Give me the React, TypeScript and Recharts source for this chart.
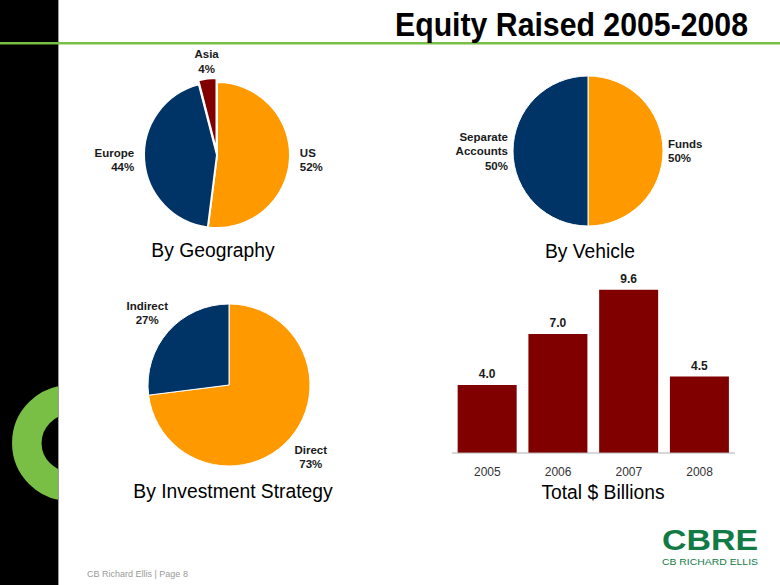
import React from "react";
import { PieChart, Pie, Cell, BarChart, Bar, XAxis, YAxis, LabelList } from "recharts";

const geoNames = ["US", "Europe", "Asia"];
const geoShares = [52, 44, 4];

const vehicleNames = ["Funds", "Separate Accounts"];
const vehicleShares = [50, 50];

const strategyNames = ["Direct", "Indirect"];
const strategyShares = [73, 27];

const years = ["2005", "2006", "2007", "2008"];
const equityRaised = [4.0, 7.0, 9.6, 4.5];

const ORANGE = "#FF9900";
const NAVY = "#003366";
const MAROON = "#800000";
const GREEN = "#79bf45";
const FONT = "'Liberation Sans', Arial, sans-serif";

const geoData = geoNames.map((name, i) => ({ name, value: geoShares[i] }));
const vehicleData = vehicleNames.map((name, i) => ({ name, value: vehicleShares[i] }));
const strategyData = strategyNames.map((name, i) => ({ name, value: strategyShares[i] }));
const barData = years.map((year, i) => ({ year, value: equityRaised[i] }));

const RAD = Math.PI / 180;
const NO_MARGIN = { top: 0, right: 0, bottom: 0, left: 0 };

// label outside the slice, split over lines, with the percentage last
const sliceLabel = (gap: number) => (props: any) => {
  const { cx, cy, midAngle, outerRadius, name, value } = props;
  const c = Math.cos(-midAngle * RAD);
  const s = Math.sin(-midAngle * RAD);
  const r = outerRadius + gap;
  const x = cx + r * c;
  const y = cy + r * s;
  const anchor = Math.abs(c) < 0.85 ? "middle" : c > 0 ? "start" : "end";
  const lines = [...String(name).split(" "), `${value}%`];
  const lh = 14.5;
  let y0;
  if (s < -0.7) y0 = y - 4 - (lines.length - 1) * lh;
  else if (s > 0.7) y0 = y + 8;
  else y0 = y - ((lines.length - 1) * lh) / 2;
  return (
    <text
      x={x}
      y={y0}
      textAnchor={anchor}
      fontFamily={FONT}
      fontSize={11.5}
      fontWeight="bold"
      fill="#1a1a1a"
    >
      {lines.map((l, i) => (
        <tspan key={i} x={x} y={y0 + i * lh} dy="0.35em">
          {l}
        </tspan>
      ))}
    </text>
  );
};

const pieBox = (left: number, top: number): React.CSSProperties => ({
  position: "absolute",
  left,
  top,
  width: 300,
  height: 250,
});

export default function App() {
  return (
    <div
      style={{
        position: "fixed",
        left: 0,
        top: 0,
        width: 780,
        height: 585,
        background: "#fff",
        overflow: "hidden",
        fontFamily: FONT,
      }}
    >
      <svg width={780} height={585} style={{ position: "absolute", left: 0, top: 0 }}>
        <defs>
          <clipPath id="barClip">
            <rect x={0} y={0} width={58} height={585} />
          </clipPath>
        </defs>
        <rect x={0} y={0} width={58} height={585} fill="#000" />
        <rect x={58} y={0} width={1} height={585} fill="#9a9a9a" />
        <circle
          cx={70}
          cy={443}
          r={43.2}
          fill="none"
          stroke={GREEN}
          strokeWidth={29.5}
          clipPath="url(#barClip)"
        />
        <rect x={0} y={42} width={780} height={2.5} fill={GREEN} />
        <text
          x={748}
          y={36}
          textAnchor="end"
          fontFamily={FONT}
          fontWeight="bold"
          fontSize={33}
          textLength={353}
          lengthAdjust="spacingAndGlyphs"
          fill="#000"
        >
          Equity Raised 2005-2008
        </text>

        <g fontFamily={FONT} fontSize={19.3} fill="#000" textAnchor="middle">
          <text x={213} y={257}>By Geography</text>
          <text x={590} y={258}>By Vehicle</text>
          <text x={233} y={498}>By Investment Strategy</text>
          <text x={603} y={499}>Total $ Billions</text>
        </g>

        <text x={87} y={577} fontFamily={FONT} fontSize={9} fill="#9a9a9a">
          CB Richard Ellis  |  Page 8
        </text>

        <text
          x={662}
          y={550}
          fontFamily={FONT}
          fontWeight="bold"
          fontSize={29}
          textLength={96}
          lengthAdjust="spacingAndGlyphs"
          fill="#117a45"
        >
          CBRE
        </text>
        <text
          x={662}
          y={565}
          fontFamily={FONT}
          fontSize={8.5}
          textLength={96}
          lengthAdjust="spacingAndGlyphs"
          fill="#117a45"
        >
          CB RICHARD ELLIS
        </text>
      </svg>

      {/* By Geography */}
      <div style={pieBox(67, 30)}>
        <PieChart width={300} height={250} margin={NO_MARGIN}>
          <Pie
            data={geoData}
            dataKey="value"
            nameKey="name"
            cx={150}
            cy={125}
            outerRadius={73}
            startAngle={90}
            endAngle={-270}
            stroke="#fff"
            strokeWidth={2}
            label={sliceLabel(10)}
            labelLine={false}
            isAnimationActive={false}
          >
            <Cell fill={ORANGE} />
            <Cell fill={NAVY} />
            <Cell fill="transparent" stroke="none" />
          </Pie>
          <Pie
            data={geoData}
            dataKey="value"
            nameKey="name"
            cx={149.5}
            cy={121}
            outerRadius={73}
            startAngle={90}
            endAngle={-270}
            stroke="#fff"
            strokeWidth={2}
            isAnimationActive={false}
          >
            <Cell fill="transparent" stroke="none" />
            <Cell fill="transparent" stroke="none" />
            <Cell fill={MAROON} />
          </Pie>
        </PieChart>
      </div>

      {/* By Vehicle */}
      <div style={pieBox(438, 26)}>
        <PieChart width={300} height={250} margin={NO_MARGIN}>
          <Pie
            data={vehicleData}
            dataKey="value"
            nameKey="name"
            cx={150}
            cy={125}
            outerRadius={75}
            startAngle={90}
            endAngle={-270}
            stroke="#fff"
            strokeWidth={1}
            label={sliceLabel(5)}
            labelLine={false}
            isAnimationActive={false}
          >
            <Cell fill={ORANGE} />
            <Cell fill={NAVY} />
          </Pie>
        </PieChart>
      </div>

      {/* By Investment Strategy */}
      <div style={pieBox(79, 260)}>
        <PieChart width={300} height={250} margin={NO_MARGIN}>
          <Pie
            data={strategyData}
            dataKey="value"
            nameKey="name"
            cx={150}
            cy={125}
            outerRadius={81}
            startAngle={90}
            endAngle={-270}
            stroke="#fff"
            strokeWidth={1}
            label={sliceLabel(28)}
            labelLine={false}
            isAnimationActive={false}
          >
            <Cell fill={ORANGE} />
            <Cell fill={NAVY} />
          </Pie>
        </PieChart>
      </div>

      {/* Total $ Billions */}
      <div style={{ position: "absolute", left: 440, top: 260, width: 300, height: 230 }}>
        <BarChart
          width={300}
          height={230}
          data={barData}
          margin={{ top: 23, right: 5, bottom: 7, left: 12 }}
          barCategoryGap="8%"
        >
          <XAxis
            dataKey="year"
            tickLine={false}
            axisLine={{ stroke: "#b0b0b0" }}
            tick={{ fontSize: 12, fill: "#333", fontFamily: FONT }}
            tickMargin={8}
            height={30}
          />
          <YAxis hide domain={[0, 10]} />
          <Bar dataKey="value" fill={MAROON} isAnimationActive={false}>
            <LabelList
              dataKey="value"
              position="top"
              offset={7}
              formatter={(v: any) => Number(v).toFixed(1)}
              style={{ fontSize: 12, fontWeight: "bold", fill: "#1a1a1a", fontFamily: FONT }}
            />
          </Bar>
        </BarChart>
      </div>
    </div>
  );
}
